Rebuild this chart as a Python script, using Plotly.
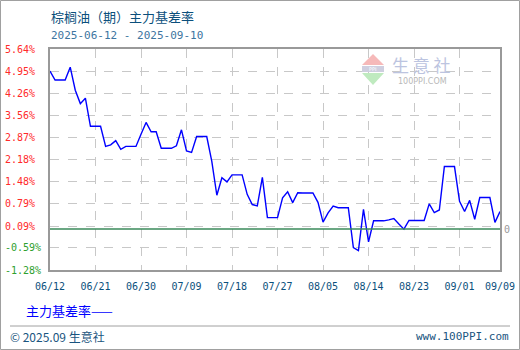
import pandas as pd
import plotly.graph_objects as go

# ---- data ----
start_date = "2025-06-12"
end_date = "2025-09-09"
dates = pd.date_range(start_date, end_date, freq="D").strftime("%Y-%m-%d").tolist()
basis_rate = [
    4.95, 4.67, 4.67, 4.67, 5.07, 4.35, 3.93, 4.10, 3.22, 3.22,
    3.22, 2.59, 2.64, 2.77, 2.50, 2.59, 2.59, 2.59, 2.97, 3.34,
    3.05, 3.05, 2.53, 2.53, 2.53, 2.61, 3.11, 2.45, 2.40, 2.90,
    2.90, 2.90, 2.12, 1.06, 1.61, 1.48, 1.70, 1.70, 1.70, 1.09,
    0.77, 0.73, 1.62, 0.36, 0.36, 0.36, 0.98, 1.17, 0.83, 1.14,
    1.13, 1.13, 1.13, 0.84, 0.22, 0.51, 0.72, 0.67, 0.67, 0.67,
    -0.58, -0.67, 0.62, -0.40, 0.26, 0.26, 0.26, 0.29, 0.33, 0.16,
    0.00, 0.27, 0.27, 0.27, 0.27, 0.79, 0.52, 0.60, 1.96, 1.96,
    1.96, 0.87, 0.55, 0.90, 0.31, 0.99, 0.99, 0.99, 0.21, 0.55,
]
y_ticks = [5.64, 4.95, 4.26, 3.56, 2.87, 2.18, 1.48, 0.79, 0.09, -0.59, -1.28]
x_ticks = ["2025-06-12", "2025-06-21", "2025-06-30", "2025-07-09", "2025-07-18",
           "2025-07-27", "2025-08-05", "2025-08-14", "2025-08-23", "2025-09-01",
           "2025-09-09"]
x_tick_labels = ["06/12", "06/21", "06/30", "07/09", "07/18", "07/27",
                 "08/05", "08/14", "08/23", "09/01", "09/09"]
title_text = "棕榈油（期）主力基差率"
subtitle_text = "2025-06-12 - 2025-09-10"
series_name = "主力基差率"

# ---- layout geometry ----
W, H = 520, 350
ML, MR, MT, MB = 50, 20, 49, 80
PW, PH = W - ML - MR, H - MT - MB


def px(x):
    return (x - ML) / PW


def py(y):
    return (H - MB - y) / PH


RED = "#ff2a2a"
GREEN = "#2ea02e"

fig = go.Figure()
fig.add_trace(go.Scatter(
    x=dates, y=basis_rate, mode="lines", name=series_name,
    line=dict(color="#0000ff", width=1.4), showlegend=False,
))

mono = "DejaVu Sans Mono"
cjk = "Noto Sans CJK SC"

fig.update_layout(
    width=W, height=H,
    margin=dict(l=ML, r=MR, t=MT, b=MB, pad=0, autoexpand=False),
    paper_bgcolor="white", plot_bgcolor="white",
    xaxis=dict(
        type="date", range=[start_date, end_date], automargin=False,
        tickmode="array", tickvals=x_ticks, ticktext=x_tick_labels,
        showgrid=True, gridcolor="#c8c8c8", griddash="dash", gridwidth=1,
        showline=True, linecolor="#999999", linewidth=1.5, mirror=True,
        zeroline=False, ticks="", ticklabelstandoff=6,
        tickfont=dict(family=mono, size=10, color="#0b4f7c"),
    ),
    yaxis=dict(
        range=[-1.28, 5.64], automargin=False,
        tickmode="array", tickvals=y_ticks, showticklabels=False,
        showgrid=True, gridcolor="#c8c8c8", griddash="dash", gridwidth=1,
        showline=True, linecolor="#999999", linewidth=1.5, mirror=True,
        zeroline=False, ticks="",
    ),
)

shapes = [
    # outer frame
    dict(type="rect", xref="paper", yref="paper",
         x0=px(0.5), x1=px(519.5), y0=py(349.5), y1=py(0.5),
         line=dict(color="#a0a0a0", width=1)),
    # footer separator
    dict(type="line", xref="paper", yref="paper",
         x0=px(10), x1=px(510), y0=py(326), y1=py(326),
         line=dict(color="#a0a0a0", width=1)),
    # zero line
    dict(type="line", xref="paper", yref="y", x0=0, x1=1, y0=0, y1=0,
         line=dict(color="#3a8a5a", width=1.5)),
    # logo: red triangle
    dict(type="path", xref="paper", yref="paper",
         path=f"M {px(362)} {py(65)} L {px(384)} {py(65)} L {px(373)} {py(54)} Z",
         fillcolor="#f6b9b9", line=dict(width=0)),
    # logo band
    dict(type="rect", xref="paper", yref="paper",
         x0=px(362), x1=px(384), y0=py(72), y1=py(66),
         fillcolor="#cfcfe0", line=dict(width=0)),
    # logo: green triangle
    dict(type="path", xref="paper", yref="paper",
         path=f"M {px(362)} {py(73)} L {px(384)} {py(73)} L {px(373)} {py(85)} Z",
         fillcolor="#bfeabf", line=dict(width=0)),
]
fig.update_layout(shapes=shapes)

ann = [
    dict(text=title_text, x=px(49), y=py(16), xanchor="left", yanchor="middle",
         font=dict(family=cjk, size=13, color="#0b4f7c")),
    dict(text=subtitle_text, x=px(49), y=py(35), xanchor="left", yanchor="middle",
         font=dict(family=mono, size=11, color="#3d75a0")),
    dict(text=series_name + "——", x=px(24), y=py(310), xanchor="left", yanchor="middle",
         font=dict(family=cjk, size=13, color="#0000ff")),
    dict(text="© 2025.09 生意社", x=px(8), y=py(336), xanchor="left", yanchor="middle",
         font=dict(family=cjk, size=12, color="#1a5580")),
    dict(text="www.100PPI.com", x=px(511), y=py(336), xanchor="right", yanchor="middle",
         font=dict(family=mono, size=11, color="#1a5580")),
    dict(text="0", x=px(507), y=0, xref="paper", yref="y", xanchor="center", yanchor="middle",
         font=dict(family=mono, size=10, color="#999999")),
    dict(text="生 意 社", x=px(421), y=py(64), xanchor="center", yanchor="middle",
         font=dict(family=cjk, size=17, color="#bcc4e0")),
    dict(text="100PPI.COM", x=px(422), y=py(81), xanchor="center", yanchor="middle",
         font=dict(family="DejaVu Sans", size=8, color="#b8b8b8")),
    dict(text="PPI", x=px(373), y=py(69), xanchor="center", yanchor="middle",
         font=dict(family="DejaVu Sans", size=5, color="#ffffff")),
]
# y tick labels (left aligned, red for positive, green for negative)
for v in y_ticks:
    ann.append(dict(text=f"{v:.2f}%", x=px(3), y=v, xref="paper", yref="y",
                    xanchor="left", yanchor="middle",
                    font=dict(family=mono, size=10, color=RED if v >= 0 else GREEN)))
for a in ann:
    a.setdefault("xref", "paper")
    a.setdefault("yref", "paper")
    a["showarrow"] = False
fig.update_layout(annotations=ann)

fig.write_html("out.html", config={"displayModeBar": False},
               post_script="document.body.style.margin='0';")
